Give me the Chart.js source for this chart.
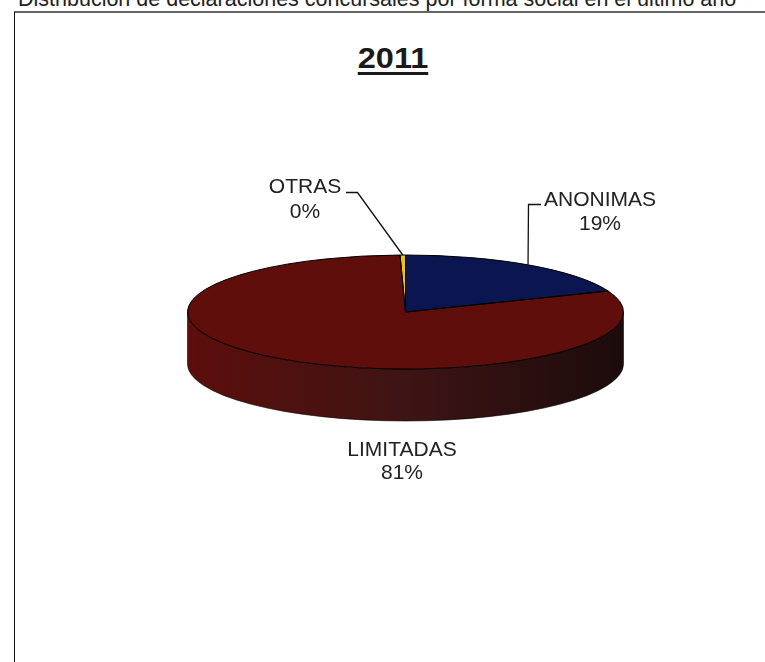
<!DOCTYPE html>
<html lang="es">
<head>
    <meta charset="UTF-8">
    <title>Declaraciones concursales 2011</title>
    <script src="https://cdn.jsdelivr.net/npm/chart.js@4.4.0/dist/chart.umd.min.js"></script>
    <style>
        body {
            margin: 0;
            width: 765px;
            height: 662px;
            overflow: hidden;
            background: #fff;
            font-family: "Liberation Sans", Arial, sans-serif;
            position: relative;
        }
        .caption {
            position: absolute;
            left: 18px;
            top: -11px;
            font-size: 21.5px;
            line-height: 21px;
            color: #222;
            white-space: nowrap;
        }
        .frame {
            position: absolute;
            left: 14px;
            top: 11px;
            width: 780px;
            height: 700px;
            border-top: 2px solid #666;
            border-left: 1px solid #111;
        }
        .title {
            position: absolute;
            left: 293px;
            width: 200px;
            top: 44px;
            text-align: center;
            font-size: 29px;
            line-height: 28px;
            font-weight: bold;
            color: #1a1a1a;
            text-decoration: underline;
            text-decoration-thickness: 2.5px;
            text-underline-offset: 4px;
            transform: scaleX(1.12);
        }
        #pie {
            position: absolute;
            left: 0;
            top: 0;
        }
    </style>
</head>
<body>
    <div class="caption">Distribución de declaraciones concursales por forma social en el último año</div>
    <div class="frame"></div>
    <div class="title">2011</div>
    <canvas id="pie" width="765" height="662"></canvas>

    <script>
        // data (percent of declarations, 2011)
        const categories = ['ANONIMAS', 'LIMITADAS', 'OTRAS'];
        const shares = [19.0, 80.6, 0.4];
        const sliceColors = ['#0b1650', '#5f0e0b', '#f2c01e'];

        // side wall shading, left to right
        const wallStops = [
            ['#0b1650', '#08103a', '#050a22'],
            ['#5c0e0b', '#3e1414', '#1c0b0b'],
            ['#f2c01e', '#a88515', '#5a470b']
        ];

        // where each label sits and where its leader line bends
        const labelLayout = [
            { x: 600, y: 206, gap: 24, leader: [[541, 204.5], [528.5, 204.5]] },
            { x: 402, y: 456, gap: 23, leader: null },
            { x: 305, y: 193, gap: 25, leader: [[346, 192.5], [357.5, 192.5]] }
        ];

        const TILT = 57 / 218;
        const DEPTH = 52;

        function arcGeom(arc) {
            return arc.getProps(['x', 'y', 'startAngle', 'endAngle', 'outerRadius'], true);
        }

        const pie3d = {
            id: 'pie3d',
            beforeDatasetsDraw(chart) {
                const ctx = chart.ctx;
                const meta = chart.getDatasetMeta(0);
                // visible side walls: front half of the ellipse (0..PI)
                meta.data.forEach((arc, i) => {
                    const g = arcGeom(arc);
                    const a = Math.max(g.startAngle, 0);
                    const b = Math.min(g.endAngle, Math.PI);
                    if (b <= a) return;
                    const rx = g.outerRadius, ry = rx * TILT;
                    const grad = ctx.createLinearGradient(g.x - rx, 0, g.x + rx, 0);
                    grad.addColorStop(0, wallStops[i][0]);
                    grad.addColorStop(0.5, wallStops[i][1]);
                    grad.addColorStop(1, wallStops[i][2]);
                    ctx.save();
                    ctx.beginPath();
                    ctx.ellipse(g.x, g.y, rx, ry, 0, a, b, false);
                    ctx.ellipse(g.x, g.y + DEPTH, rx, ry, 0, b, a, true);
                    ctx.closePath();
                    ctx.fillStyle = grad;
                    ctx.fill();
                    ctx.lineWidth = 0.8;
                    ctx.strokeStyle = 'rgba(0,0,0,0.7)';
                    ctx.stroke();
                    ctx.restore();
                });
                // squash the top face
                const cy = meta.data[0].y;
                ctx.save();
                ctx.translate(0, cy);
                ctx.scale(1, TILT);
                ctx.translate(0, -cy);
            },
            afterDatasetsDraw(chart) {
                const ctx = chart.ctx;
                ctx.restore();
                const meta = chart.getDatasetMeta(0);
                meta.data.forEach(arc => {
                    const g = arcGeom(arc);
                    const rx = g.outerRadius, ry = rx * TILT;
                    ctx.save();
                    ctx.beginPath();
                    ctx.moveTo(g.x, g.y);
                    ctx.ellipse(g.x, g.y, rx, ry, 0, g.startAngle, g.endAngle, false);
                    ctx.closePath();
                    ctx.lineWidth = 1;
                    ctx.strokeStyle = '#000';
                    ctx.stroke();
                    ctx.restore();
                });
            },
            afterDraw(chart) {
                const ctx = chart.ctx;
                const meta = chart.getDatasetMeta(0);
                const values = chart.data.datasets[0].data;
                const total = values.reduce((s, v) => s + v, 0);
                ctx.save();
                ctx.font = '21px "Liberation Sans", Arial, sans-serif';
                ctx.textAlign = 'center';
                ctx.textBaseline = 'alphabetic';
                meta.data.forEach((arc, i) => {
                    const g = arcGeom(arc);
                    const L = labelLayout[i];
                    const pct = Math.round(values[i] / total * 100) + '%';
                    ctx.fillStyle = '#222';
                    ctx.fillText(chart.data.labels[i], L.x, L.y);
                    ctx.fillText(pct, L.x, L.y + L.gap);
                    if (L.leader) {
                        const mid = (g.startAngle + g.endAngle) / 2;
                        const rx = g.outerRadius, ry = rx * TILT;
                        ctx.beginPath();
                        ctx.moveTo(L.leader[0][0], L.leader[0][1]);
                        ctx.lineTo(L.leader[1][0], L.leader[1][1]);
                        ctx.lineTo(g.x + rx * Math.cos(mid), g.y + ry * Math.sin(mid));
                        ctx.lineWidth = 1.3;
                        ctx.strokeStyle = '#111';
                        ctx.stroke();
                    }
                });
                ctx.restore();
            }
        };

        new Chart(document.getElementById('pie'), {
            type: 'pie',
            data: {
                labels: categories,
                datasets: [{
                    data: shares,
                    backgroundColor: sliceColors,
                    borderWidth: 0
                }]
            },
            options: {
                responsive: false,
                animation: false,
                events: [],
                layout: { padding: { left: 187.5, right: 141.5, top: 94, bottom: 132 } },
                plugins: {
                    legend: { display: false },
                    tooltip: { enabled: false }
                }
            },
            plugins: [pie3d]
        });
    </script>
</body>
</html>
